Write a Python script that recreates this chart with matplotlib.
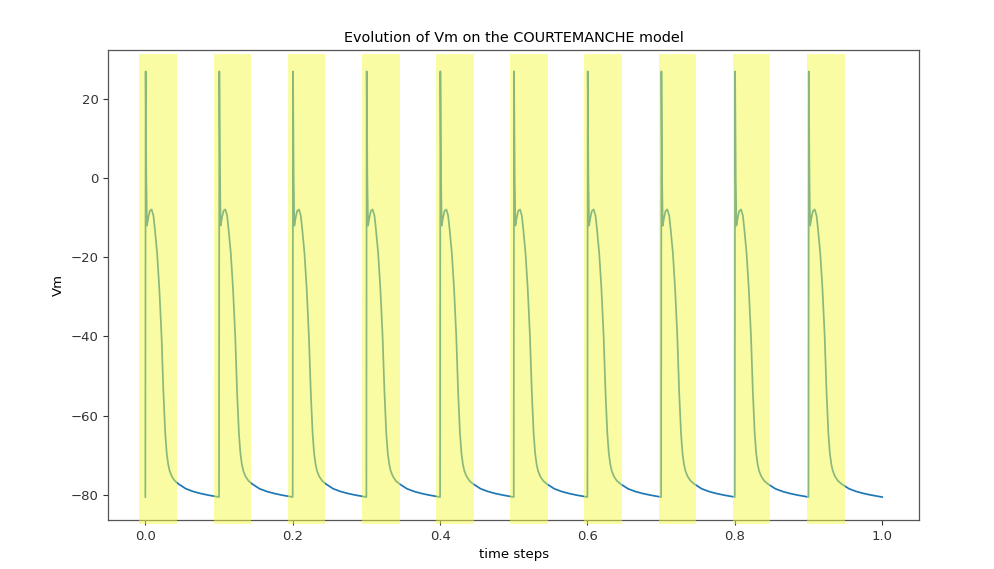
import numpy as np
import matplotlib
matplotlib.use("Agg")
import matplotlib.pyplot as plt
from matplotlib.patches import Rectangle
import matplotlib.transforms as mtransforms

# One action-potential beat (time offset within a beat, membrane potential)
beat_t = [0.0000, 0.0004, 0.0013, 0.0022, 0.0040, 0.0060, 0.0085, 0.0110,
          0.0130, 0.0160, 0.0190, 0.0220, 0.0245, 0.0270, 0.0290, 0.0310,
          0.0330, 0.0360, 0.0400, 0.0450, 0.0550, 0.0650, 0.0750, 0.0850,
          0.0999]
beat_v = [-80.6, 27.0, 0.0, -12.0, -10.0, -8.3, -7.9, -9.5,
          -13.0, -19.0, -28.0, -40.0, -54.0, -64.5, -69.5, -72.3,
          -74.0, -75.4, -76.5, -77.3, -78.5, -79.2, -79.7, -80.1,
          -80.6]
beat_starts = [0.0, 0.1, 0.2, 0.3, 0.4, 0.5, 0.6, 0.7, 0.8, 0.9]
final_point = (1.0, -80.6)

# Highlighted stimulus windows
span_starts = [-0.008, 0.093, 0.193, 0.294, 0.395, 0.495, 0.596, 0.697, 0.797, 0.898]
span_width = 0.051

x_ticks = [0.0, 0.2, 0.4, 0.6, 0.8, 1.0]
y_ticks = [-80, -60, -40, -20, 0, 20]

t_all = []
v_all = []
for s in beat_starts:
    t_all.extend([s + bt for bt in beat_t])
    v_all.extend(beat_v)
t_all.append(final_point[0])
v_all.append(final_point[1])

fig = plt.figure(figsize=(9.95, 5.69), dpi=100)
ax = fig.add_axes([108.5 / 995, 1 - 520 / 569, (919 - 108.5) / 995, 470 / 569])

ax.plot(t_all, v_all, color="#1f77b4", lw=1.25, zorder=2)

trans = mtransforms.blended_transform_factory(ax.transData, ax.transAxes)
for s in span_starts:
    r = Rectangle((s, -0.0085), span_width, 1.0, transform=trans,
                  facecolor="#f5fa46", alpha=0.5, edgecolor="none",
                  clip_on=False, zorder=3)
    ax.add_patch(r)

ax.set_xlim(-0.05, 1.05)
ax.set_ylim(-86.4, 32.4)
ax.set_xticks(x_ticks)
ax.set_xticklabels([f"{x:.1f}" for x in x_ticks])
ax.set_yticks(y_ticks)
ax.set_yticklabels([f"\u2212{abs(y)}" if y < 0 else f"{y}" for y in y_ticks])

fs = 9.5
ax.tick_params(labelsize=fs, length=3.5, width=0.8, colors="#333333")
for sp in ax.spines.values():
    sp.set_color("#555555")
    sp.set_linewidth(0.9)
ax.set_title("Evolution of Vm on the COURTEMANCHE model", fontsize=10.4, pad=6)
ax.set_xlabel("time steps", fontsize=fs)
ax.set_ylabel("Vm", fontsize=fs)

fig.savefig("out.png", dpi=100)
